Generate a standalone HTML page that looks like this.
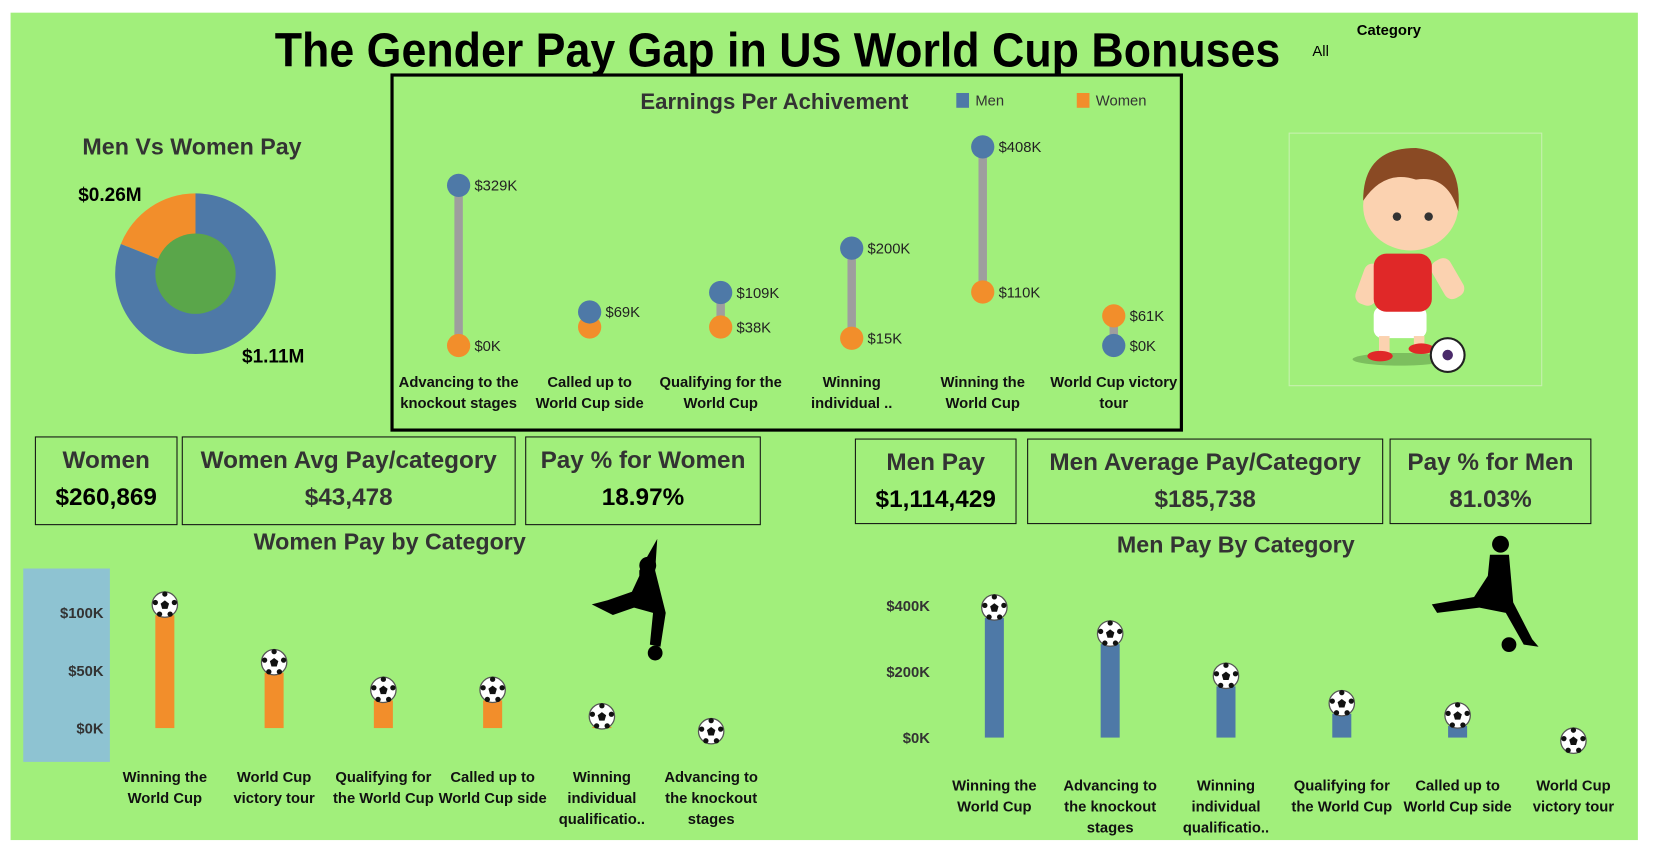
<!DOCTYPE html>
<html><head><meta charset="utf-8">
<style>
body{margin:0;width:1657px;height:851px;background:#fff;overflow:hidden;font-family:"Liberation Sans",sans-serif;}
#wrap{position:absolute;left:0;top:0;width:1568px;height:805px;transform:scale(1.0567);transform-origin:0 0;}
#bg{position:absolute;left:10px;top:12px;width:1540px;height:783px;background:#a1ef7b;}
.t{position:absolute;white-space:nowrap;color:#333;font-weight:bold;}
.kpi{position:absolute;border:1.5px solid #111;box-sizing:border-box;text-align:center;color:#333;font-weight:bold;}
.kpi .h{font-size:23px;margin-top:8px;}
.kpi .v{font-size:23px;margin-top:8px;}
svg{position:absolute;left:0;top:0;}
</style></head><body>
<div id="wrap">
<div id="bg"></div>
<div class="t" style="left:260px;top:20px;font-size:46px;color:#000;font-weight:900;transform:scaleX(0.92);transform-origin:0 0;">The Gender Pay Gap in US World Cup Bonuses</div>
<div class="t" style="left:1284px;top:20px;font-size:14px;color:#000;">Category</div>
<div class="t" style="left:1242px;top:40px;font-size:14px;color:#000;font-weight:normal;">All</div>
<div class="t" style="left:78px;top:126px;font-size:22px;">Men Vs Women Pay</div>
<div class="t" style="left:74px;top:174px;font-size:18px;color:#000;">$0.26M</div>
<div class="t" style="left:229px;top:327px;font-size:18px;color:#000;">$1.11M</div>

<div class="kpi" style="left:33px;top:413px;width:135px;height:84px;"><div class="h">Women</div><div class="v" style="color:#000">$260,869</div></div>
<div class="kpi" style="left:172px;top:413px;width:316px;height:84px;"><div class="h">Women Avg Pay/category</div><div class="v">$43,478</div></div>
<div class="kpi" style="left:497px;top:413px;width:223px;height:84px;"><div class="h">Pay % for Women</div><div class="v" style="color:#000">18.97%</div></div>
<div class="kpi" style="left:809px;top:415px;width:153px;height:81px;"><div class="h">Men Pay</div><div class="v" style="color:#000">$1,114,429</div></div>
<div class="kpi" style="left:972px;top:415px;width:337px;height:81px;"><div class="h">Men Average Pay/Category</div><div class="v">$185,738</div></div>
<div class="kpi" style="left:1315px;top:415px;width:191px;height:81px;"><div class="h">Pay % for Men</div><div class="v">81.03%</div></div>

<div class="t" style="left:240px;top:500px;font-size:22px;">Women Pay by Category</div>
<div class="t" style="left:1057px;top:503px;font-size:22px;">Men Pay By Category</div>

<svg id="svg" width="1568" height="805">
<defs>
<g id="ball"><circle r="12" fill="#fff" stroke="#555" stroke-width="1.2"/><polygon points="0,-4 4,-1 2.5,4 -2.5,4 -4,-1" fill="#111"/><circle cx="0" cy="-10" r="2.5" fill="#111"/><circle cx="9" cy="-2" r="2.5" fill="#111"/><circle cx="-9" cy="-2" r="2.5" fill="#111"/><circle cx="5" cy="9" r="2.5" fill="#111"/><circle cx="-5" cy="9" r="2.5" fill="#111"/></g>
</defs>
<rect x="371" y="71" width="747" height="336" fill="none" stroke="#000" stroke-width="3"/>
<text x="606" y="103" font-size="21" font-weight="bold" fill="#333">Earnings Per Achivement</text>
<rect x="905" y="88" width="12" height="14" fill="#4e79a7"/>
<text x="923" y="100" font-size="14" fill="#333">Men</text>
<rect x="1019" y="88" width="12" height="14" fill="#f28e2b"/>
<text x="1037" y="100" font-size="14" fill="#333">Women</text>
<rect x="22" y="538" width="82" height="183" fill="#8ec3d2"/>
<rect x="1220" y="126" width="239" height="239" fill="none" stroke="#c8f0b0" stroke-width="1"/>
<g>
<ellipse cx="1325" cy="340" rx="45" ry="6" fill="#7cbf5e"/>
<rect x="1300" y="290" width="50" height="30" rx="8" fill="#fff"/>
<rect x="1290" y="250" width="20" height="40" rx="8" fill="#fbd2b0" transform="rotate(20 1300 260)"/>
<rect x="1355" y="245" width="20" height="40" rx="8" fill="#fbd2b0" transform="rotate(-30 1365 255)"/>
<rect x="1300" y="240" width="55" height="55" rx="12" fill="#e02828"/>
<ellipse cx="1335" cy="195" rx="45" ry="42" fill="#fbd2b0"/>
<path d="M1290 190 Q1290 140 1340 140 Q1385 145 1380 200 Q1370 165 1340 170 Q1310 160 1290 190Z" fill="#8a4a24"/>
<circle cx="1322" cy="205" r="4" fill="#333"/><circle cx="1352" cy="205" r="4" fill="#333"/>
<rect x="1305" y="318" width="10" height="20" fill="#fbd2b0"/><rect x="1338" y="318" width="10" height="15" fill="#fbd2b0"/>
<ellipse cx="1306" cy="337" rx="12" ry="5" fill="#e02828"/><ellipse cx="1345" cy="330" rx="12" ry="5" fill="#e02828"/>
<circle cx="1370" cy="336" r="16" fill="#fff" stroke="#222" stroke-width="2"/><circle cx="1370" cy="336" r="5" fill="#4a2a6a"/>
</g>
<g fill="#000">
<circle cx="613" cy="535" r="8"/><path d="M605 540 L622 510 L620 540 L630 580 L625 612 L615 610 L618 580 L600 575 L580 582 L560 572 L575 568 L598 560 L605 545Z"/><circle cx="620" cy="618" r="7"/>
</g>
<g fill="#000">
<circle cx="1420" cy="515" r="8"/><path d="M1410 525 L1428 525 L1432 570 L1450 605 L1456 612 L1442 610 L1425 580 L1400 575 L1360 580 L1355 572 L1395 565 L1408 545Z"/><circle cx="1428" cy="610" r="7"/>
</g>
</svg>
</div>

<script>
const categories=["Advancing to the knockout stages","Called up to World Cup side","Qualifying for the World Cup","Winning individual ..","Winning the World Cup","World Cup victory tour"];
const catLines=[["Advancing to the","knockout stages"],["Called up to","World Cup side"],["Qualifying for the","World Cup"],["Winning","individual .."],["Winning the","World Cup"],["World Cup victory","tour"]];
const menValues=[329,69,109,200,408,0];
const womenValues=[0,38,38,15,110,61];
const womenCats=[["Winning the","World Cup"],["World Cup","victory tour"],["Qualifying for","the World Cup"],["Called up to","World Cup side"],["Winning","individual","qualificatio.."],["Advancing to","the knockout","stages"]];
const womenBarValues=[98,48,24,24,1,0];
const womenTicks=[0,50,100];
const menCats=[["Winning the","World Cup"],["Advancing to","the knockout","stages"],["Winning","individual","qualificatio.."],["Qualifying for","the World Cup"],["Called up to","World Cup side"],["World Cup","victory tour"]];
const menBarValues=[362,283,155,72,35,0];
const menTicks=[0,200,400];
const donutValues=[260869,1114429];

const svg=document.getElementById('svg');
const NS='http://www.w3.org/2000/svg';
function mk(tag,attrs,parent){const e=document.createElementNS(NS,tag);for(const k in attrs)e.setAttribute(k,attrs[k]);(parent||svg).appendChild(e);return e;}
function fmt(v){return '$'+v+'K';}

(function(){
 const cx=185,cy=259,R=76,total=donutValues[0]+donutValues[1];
 const g=mk('g',{});
 
 
 let a0=-Math.PI/2;
 const wAng=donutValues[0]/total*2*Math.PI;
 function arc(s,e,col,name){
  const large=(e-s)>Math.PI?1:0;
  const p=mk('path',{d:`M${cx} ${cy} L${cx+R*Math.cos(s)} ${cy+R*Math.sin(s)} A${R} ${R} 0 ${large} 1 ${cx+R*Math.cos(e)} ${cy+R*Math.sin(e)} Z`,fill:col},g);
  
  
 }
 arc(a0-wAng,a0,'#f28e2b','donut-slice-women');
 arc(a0,a0+2*Math.PI-wAng-0.0001,'#4e79a7','donut-slice-men');
 const c=mk('circle',{cx:cx,cy:cy,r:38,fill:'#5aa64a'},g);
 
 
})();

(function(){
 const x0=434,dx=124,y0=327,k=188/408;
 const y=v=>y0-v*k;
 categories.forEach((c,i)=>{
  const x=x0+i*dx;
  const g=mk('g',{});
  
  
  mk('line',{x1:x,x2:x,y1:y(menValues[i]),y2:y(womenValues[i]),stroke:'#9e9e9e','stroke-width':8},g);
  const wy=y(womenValues[i]),my=y(menValues[i]);
  mk('circle',{cx:x,cy:wy,r:11,fill:'#f28e2b'},g);
  mk('circle',{cx:x,cy:my,r:11,fill:'#4e79a7'},g);
  const t1=mk('text',{x:x+15,y:my+5,'font-size':14,fill:'#222'},g);t1.textContent=fmt(menValues[i]);
  if(Math.abs(my-wy)>20){const t2=mk('text',{x:x+15,y:wy+5,'font-size':14,fill:'#222'},g);t2.textContent=fmt(womenValues[i]);}
  catLines[i].forEach((l,j)=>{const t=mk('text',{x:x,y:366+j*20,'font-size':14,'font-weight':'bold','text-anchor':'middle',fill:'#111'},g);t.textContent=l;});
 });
})();

function barChart(name,vals,cats,ticks,x0,dx,y0,k,tickX,labY){
 const y=v=>y0-v*k;
 const g=mk('g',{});
 
 
 ticks.forEach(t=>{const e=mk('text',{x:tickX,y:y(t)+5,'font-size':14,'font-weight':'bold','text-anchor':'end',fill:'#333'},g);e.textContent=fmt(t);});
 vals.forEach((v,i)=>{
  const x=x0+i*dx;
  const col=name.startsWith('women')?'#f28e2b':'#4e79a7';
  const r=mk('rect',{x:x-9,y:y(v),width:18,height:v*k,fill:col},g);
  
  
  const by=v===0?y(v)+3:y(v)-10;
  mk('use',{href:'#ball',transform:`translate(${x},${by})`},g);
  cats[i].forEach((l,j)=>{const t=mk('text',{x:x,y:labY+j*20,'font-size':14,'font-weight':'bold','text-anchor':'middle',fill:'#111'},g);t.textContent=l;});
 });
}
barChart('women-pay-chart',womenBarValues,womenCats,womenTicks,156,103.4,689,1.09,98,740);
barChart('men-pay-chart',menBarValues,menCats,menTicks,941,109.6,698,0.3125,880,748);
</script>
</body></html>
